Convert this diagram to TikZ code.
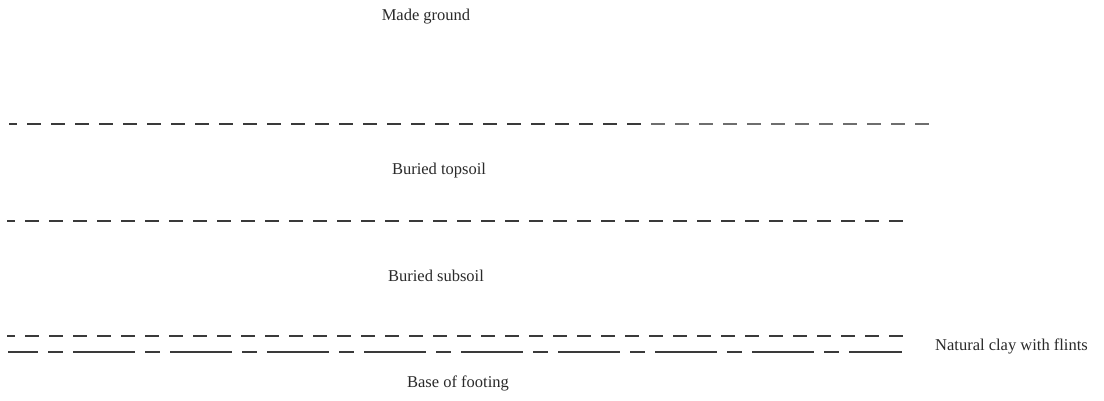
\documentclass[tikz,border=0pt]{standalone}
\usepackage{fontspec}
\setmainfont{Liberation Serif}
\definecolor{ink}{HTML}{2A2A2A}
\definecolor{lineink}{HTML}{3A3A3A}
\definecolor{lightink}{HTML}{6E6E6E}
\tikzset{
  label/.style={font=\fontsize{16.5}{18}\selectfont, text=ink, inner sep=0pt},
  boundary/.style={draw=lineink, line width=1.9pt, line cap=butt, dash pattern=on 14pt off 10pt},
  faint/.style={boundary, draw=lightink, line width=1.6pt},
  footing/.style={draw=lineink, line width=1.4pt, line cap=butt, dash pattern=on 62pt off 10pt on 15pt off 10pt}
}
\begin{document}
\begin{tikzpicture}[x=1pt,y=-1pt]
\useasboundingbox (0,0) rectangle (1104,400);
\fill[white] (0,0) rectangle (1104,400);
% labels
\node[label, anchor=base] (made) at (426,20) {Made ground};
\node[label, anchor=base] (topsoil) at (439,174) {Buried topsoil};
\node[label, anchor=base] (subsoil) at (436,281) {Buried subsoil};
\node[label, anchor=base west] (clay) at (935,350) {Natural clay with flints};
\node[label, anchor=base] (footing) at (458,387) {Base of footing};
% boundaries
\coordinate (l1a) at (9,124);   \coordinate (l1b) at (641,124);
\coordinate (l1c) at (651,124); \coordinate (l1d) at (929,124);
\coordinate (l2a) at (7,221);   \coordinate (l2b) at (903,221);
\coordinate (l3a) at (7,336);   \coordinate (l3b) at (903,336);
\coordinate (l4a) at (8,352);   \coordinate (l4b) at (902,352);
\draw[boundary, dash phase=6pt] (l1a) -- (l1b);
\draw[faint] (l1c) -- (l1d);
\draw[boundary, dash phase=6pt] (l2a) -- (l2b);
\draw[boundary, line width=1.6pt, dash phase=6pt] (l3a) -- (l3b);
\draw[footing, dash phase=32pt] (l4a) -- (l4b);
\end{tikzpicture}
\end{document}
